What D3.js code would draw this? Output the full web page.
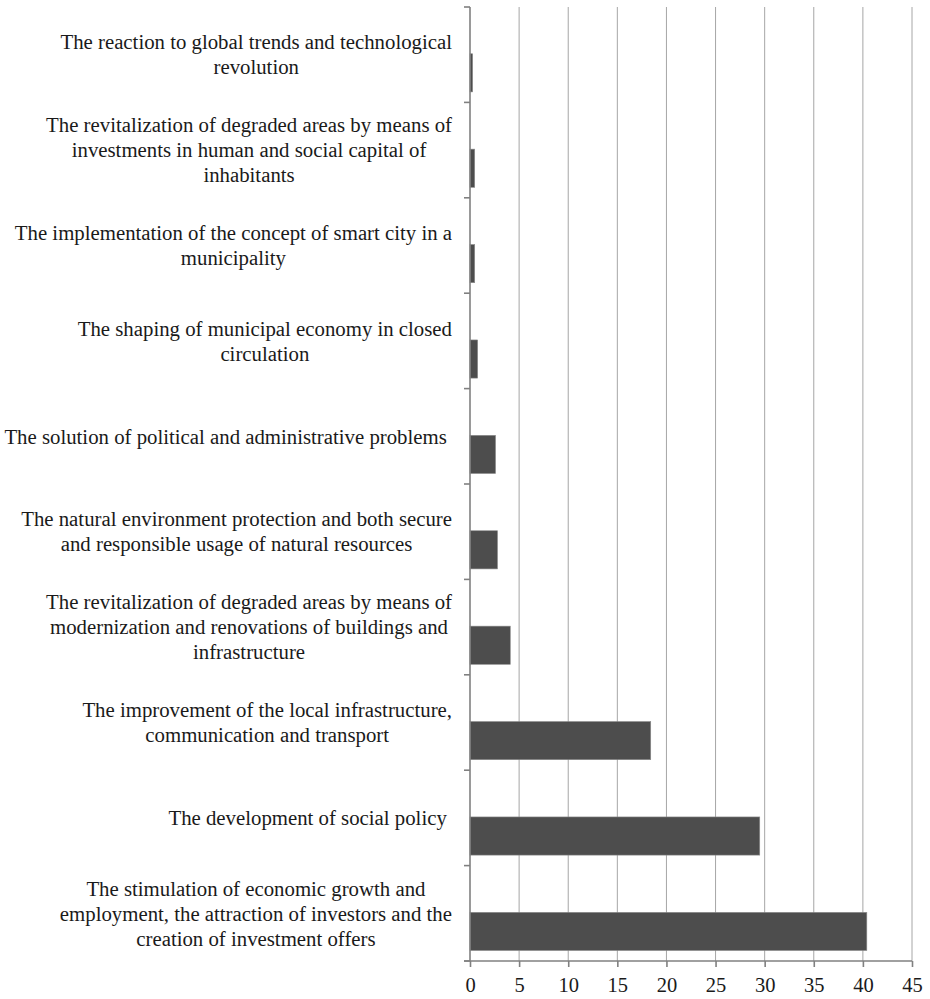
<!DOCTYPE html>
<html>
<head>
<meta charset="utf-8">
<script src="https://cdn.jsdelivr.net/npm/d3@7"></script>
<style>
  body { margin: 0; background: #fff; }
  svg text { font-family: "Liberation Serif", "DejaVu Serif", serif; fill: #1a1a1a; }
</style>
</head>
<body>
<svg id="chart"></svg>
<script>
// categories top to bottom, lines split with "|"
var categories = [
    "The reaction to global trends and technological|revolution",
    "The revitalization of degraded areas by means of|investments in human and social capital of|inhabitants",
    "The implementation of the concept of smart city in a|municipality",
    "The shaping of municipal economy in closed|circulation",
    "The solution of political and administrative problems ",
    "The natural environment protection and both secure|and responsible usage of natural resources",
    "The revitalization of degraded areas by means of|modernization and renovations of buildings and|infrastructure",
    "The improvement of the local infrastructure,|communication and transport",
    "The development of social policy ",
    "The stimulation of economic growth and|employment, the attraction of investors and the|creation of investment offers"
];
var values = [0.27, 0.48, 0.48, 0.78, 2.6, 2.8, 4.1, 18.4, 29.5, 40.4];
var xTicks = [0, 5, 10, 15, 20, 25, 30, 35, 40, 45];

(function () {
    var W = 930, H = 999;
    var plotL = 470, plotR = 912, plotT = 7, plotB = 961;
    var labelRight = 452;
    var fontSize = 20.8, lineH = 25;
    var serif = '"Liberation Serif", "DejaVu Serif", serif';

    var svg = d3.select('#chart').attr('width', W).attr('height', H);

    var x = d3.scaleLinear().domain([0, 45]).range([plotL, plotR]);
    var y = d3.scaleBand().domain(d3.range(categories.length)).range([plotT, plotB]).padding(0);

    // vertical grid
    svg.append('g').selectAll('line')
        .data(xTicks.slice(1))
        .enter().append('line')
        .attr('x1', function (d) { return x(d); })
        .attr('x2', function (d) { return x(d); })
        .attr('y1', plotT)
        .attr('y2', plotB)
        .attr('stroke', '#a6a6a6')
        .attr('stroke-width', 1);

    // bars (Excel style: sitting in lower half of the category band)
    svg.append('g').selectAll('rect')
        .data(values)
        .enter().append('rect')
        .attr('x', x(0))
        .attr('y', function (d, i) { return y(i) + y.bandwidth() * 0.49; })
        .attr('width', function (d) { return x(d) - x(0); })
        .attr('height', y.bandwidth() * 0.4)
        .attr('fill', '#4d4d4d')
        .attr('stroke', '#8c8c8c')
        .attr('stroke-width', 0.6);

    // x axis
    var xAxis = d3.axisBottom(x).tickValues(xTicks).tickSize(6).tickPadding(10).tickFormat(d3.format('d'));
    var gx = svg.append('g').attr('transform', 'translate(0,' + plotB + ')').call(xAxis);
    gx.attr('font-family', serif);
    gx.select('.domain').attr('stroke', '#808080').attr('stroke-width', 1.6).attr('d', 'M' + (plotL - 6) + ',0H' + plotR);
    gx.selectAll('.tick line').attr('stroke', '#808080').attr('stroke-width', 1.6);
    gx.selectAll('.tick text').attr('font-size', '20.5px').attr('fill', '#1a1a1a');

    // y axis: line + ticks at band boundaries
    var bounds = d3.range(categories.length + 1).map(function (i) { return plotT + i * y.bandwidth(); });
    svg.append('line')
        .attr('x1', plotL).attr('x2', plotL).attr('y1', plotT).attr('y2', plotB)
        .attr('stroke', '#808080').attr('stroke-width', 1.6);
    svg.append('g').selectAll('line')
        .data(bounds)
        .enter().append('line')
        .attr('x1', plotL - 6).attr('x2', plotL)
        .attr('y1', function (d) { return d; })
        .attr('y2', function (d) { return d; })
        .attr('stroke', '#808080').attr('stroke-width', 1.6);

    // category labels: block right-aligned, lines centered inside block
    var labels = svg.append('g').attr('font-family', serif);
    categories.forEach(function (c, i) {
        var lines = c.split('|');
        var g = labels.append('g');
        var cy = y(i) + y.bandwidth() / 2;
        var t = g.selectAll('text')
            .data(lines)
            .enter().append('text')
            .style('white-space', 'pre')
            .attr('font-size', fontSize + 'px')
            .attr('text-anchor', 'middle')
            .attr('y', function (d, j) { return cy + (j - (lines.length - 1) / 2) * lineH; })
            .attr('dy', '0.35em')
            .text(function (d) { return d; });
        var maxW = 0;
        t.each(function () { maxW = Math.max(maxW, this.getComputedTextLength()); });
        t.attr('x', labelRight - maxW / 2);
    });
})();
</script>
</body>
</html>
